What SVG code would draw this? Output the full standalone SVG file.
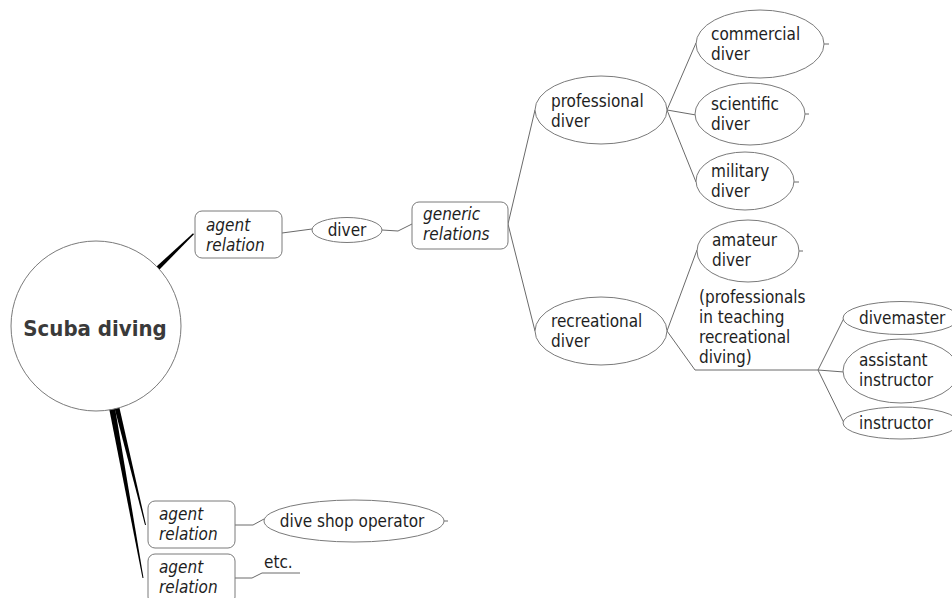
<svg xmlns="http://www.w3.org/2000/svg" width="952" height="598" viewBox="0 0 952 598">
  <style>
    text { font-family: "DejaVu Sans Condensed", "DejaVu Sans", sans-serif; font-stretch: condensed; font-size: 17px; fill: #1e1e1e; }
    .it { font-style: italic; }
    .root { font-size: 22px; font-weight: bold; fill: #3a3a3a; text-anchor: middle; }
    .mid { text-anchor: middle; }
    .shape { fill: #ffffff; stroke: #7a7a7a; stroke-width: 1; }
    .link { fill: none; stroke: #6a6a6a; stroke-width: 1; }
    .wedge { fill: #000000; stroke: none; }
  </style>
  <rect width="952" height="598" fill="#ffffff"/>

  <g id="connectors">
    <!-- tapered links leaving the central topic -->
    <polygon class="wedge" points="156.5,266.5 159.5,269.5 194,234.3 193,233.3"/>
    <polygon class="wedge" points="114.5,408 119.5,408 146,525 145,525"/>
    <polygon class="wedge" points="109,408 115,408 143.5,578 142.5,578"/>
    <!-- plain links -->
    <polyline class="link" points="282,233 312,229"/>
    <polyline class="link" points="382,230 398,231 412,224"/>
    <polyline class="link" points="508,224 535,110"/>
    <polyline class="link" points="508,224 535,331"/>
    <polyline class="link" points="667,110 696,43"/>
    <polyline class="link" points="667,110 696,115"/>
    <polyline class="link" points="667,110 696,182"/>
    <polyline class="link" points="667,331 697,250"/>
    <polyline class="link" points="667,331 695,370 818,370"/>
    <polyline class="link" points="818,370 844,318"/>
    <polyline class="link" points="818,370 844,372"/>
    <polyline class="link" points="818,370 844,423"/>
    <polyline class="link" points="235,525 253,525 264,519"/>
    <polyline class="link" points="235,578 252,578 262,573 300,573"/>
    <!-- stubs on the right of leaf topics -->
    <polyline class="link" points="824,44 829,44"/>
    <polyline class="link" points="805,114 809,114"/>
    <polyline class="link" points="794,182 799,182"/>
    <polyline class="link" points="799,251 803,251"/>
    <polyline class="link" points="444,521 448,521"/>
  </g>

  <g id="scuba-diving">
    <circle class="shape" cx="96" cy="326" r="85"/>
    <text class="root" x="95" y="336">Scuba diving</text>
  </g>

  <g id="agent-relation-1">
    <rect class="shape" x="195" y="211" width="87" height="47" rx="7"/>
    <text class="it" x="206" y="231">agent</text>
    <text class="it" x="206" y="251">relation</text>
  </g>

  <g id="diver">
    <ellipse class="shape" cx="347" cy="230" rx="35" ry="12.5"/>
    <text class="mid" x="347" y="236">diver</text>
  </g>

  <g id="generic-relations">
    <rect class="shape" x="412" y="202" width="96" height="47" rx="7"/>
    <text class="it" x="423" y="220">generic</text>
    <text class="it" x="423" y="240">relations</text>
  </g>

  <g id="professional-diver">
    <ellipse class="shape" cx="601" cy="110" rx="66" ry="34"/>
    <text x="551" y="107">professional</text>
    <text x="551" y="127">diver</text>
  </g>

  <g id="commercial-diver">
    <ellipse class="shape" cx="760" cy="44" rx="64" ry="34"/>
    <text x="711" y="40">commercial</text>
    <text x="711" y="60">diver</text>
  </g>

  <g id="scientific-diver">
    <ellipse class="shape" cx="750" cy="114" rx="55" ry="31"/>
    <text x="711" y="110">scientific</text>
    <text x="711" y="130">diver</text>
  </g>

  <g id="military-diver">
    <ellipse class="shape" cx="745" cy="181" rx="49" ry="29"/>
    <text x="711" y="177">military</text>
    <text x="711" y="197">diver</text>
  </g>

  <g id="recreational-diver">
    <ellipse class="shape" cx="601" cy="331" rx="66" ry="34"/>
    <text x="551" y="327">recreational</text>
    <text x="551" y="347">diver</text>
  </g>

  <g id="amateur-diver">
    <ellipse class="shape" cx="748" cy="251" rx="51" ry="31"/>
    <text x="712" y="246">amateur</text>
    <text x="712" y="266">diver</text>
  </g>

  <g id="teaching-professionals">
    <text x="699" y="303">(professionals</text>
    <text x="699" y="323">in teaching</text>
    <text x="699" y="343">recreational</text>
    <text x="699" y="363">diving)</text>
  </g>

  <g id="divemaster">
    <ellipse class="shape" cx="901" cy="318" rx="58" ry="16.5"/>
    <text x="859" y="324">divemaster</text>
  </g>

  <g id="assistant-instructor">
    <ellipse class="shape" cx="901" cy="371" rx="58" ry="32"/>
    <text x="859" y="366">assistant</text>
    <text x="859" y="386">instructor</text>
  </g>

  <g id="instructor">
    <ellipse class="shape" cx="901" cy="423" rx="58" ry="16"/>
    <text x="859" y="429">instructor</text>
  </g>

  <g id="agent-relation-2">
    <rect class="shape" x="148" y="501" width="87" height="47" rx="7"/>
    <text class="it" x="159" y="520">agent</text>
    <text class="it" x="159" y="540">relation</text>
  </g>

  <g id="dive-shop-operator">
    <ellipse class="shape" cx="354" cy="521" rx="90" ry="21"/>
    <text class="mid" x="352" y="527">dive shop operator</text>
  </g>

  <g id="agent-relation-3">
    <rect class="shape" x="148" y="554" width="87" height="50" rx="7"/>
    <text class="it" x="159" y="573">agent</text>
    <text class="it" x="159" y="593">relation</text>
  </g>

  <g id="etc">
    <text x="264" y="568">etc.</text>
  </g>
</svg>
